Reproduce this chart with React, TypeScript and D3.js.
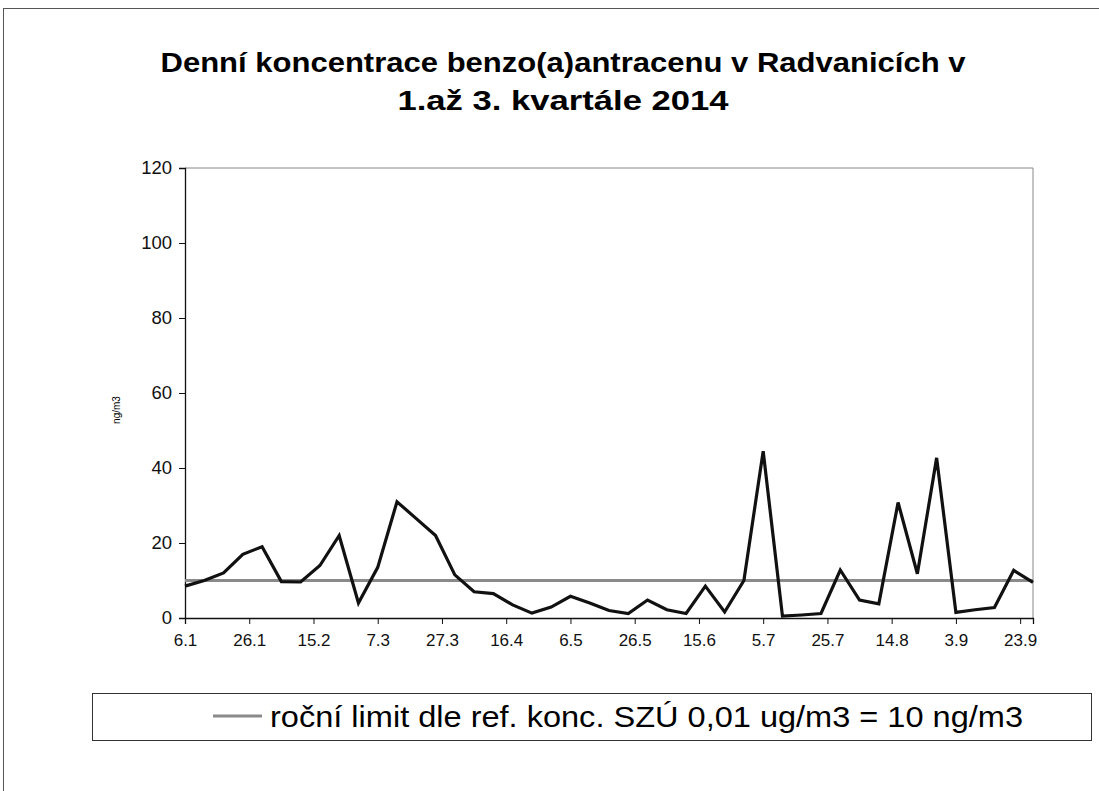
import React, { useEffect, useRef } from 'react';
import * as d3 from 'd3';

// sampling dates (every 6th day) and daily concentrations in ng/m3
const sampleDates = [
  '2014-01-06', '2014-01-12', '2014-01-18', '2014-01-24', '2014-01-30',
  '2014-02-05', '2014-02-11', '2014-02-17', '2014-02-23',
  '2014-03-01', '2014-03-07', '2014-03-13', '2014-03-19', '2014-03-25', '2014-03-31',
  '2014-04-06', '2014-04-12', '2014-04-18', '2014-04-24', '2014-04-30',
  '2014-05-06', '2014-05-12', '2014-05-18', '2014-05-24', '2014-05-30',
  '2014-06-05', '2014-06-11', '2014-06-17', '2014-06-23', '2014-06-29',
  '2014-07-05', '2014-07-11', '2014-07-17', '2014-07-23', '2014-07-29',
  '2014-08-04', '2014-08-10', '2014-08-16', '2014-08-22', '2014-08-28',
  '2014-09-03', '2014-09-09', '2014-09-15', '2014-09-21', '2014-09-27',
];
const concentrations = [
  8.5, 10, 12, 17, 19,
  9.7, 9.6, 14, 22,
  4, 13.5, 31, 26.5, 22, 11.5,
  7, 6.5, 3.5, 1.3, 2.9,
  5.8, 4, 2, 1.2, 4.8,
  2.2, 1.2, 8.5, 1.6, 10,
  44.5, 0.5, 0.8, 1.2, 12.8,
  4.8, 3.8, 30.8, 11.8, 42.7,
  1.5, 2.2, 2.8, 12.7, 9.5,
];
const limitValue = 10;
const xTickDates = [
  '2014-01-06', '2014-01-26', '2014-02-15', '2014-03-07', '2014-03-27', '2014-04-16', '2014-05-06',
  '2014-05-26', '2014-06-15', '2014-07-05', '2014-07-25', '2014-08-14', '2014-09-03', '2014-09-23',
];
const yTicks = [0, 20, 40, 60, 80, 100, 120];
const titleLines = ['Denní koncentrace benzo(a)antracenu v Radvanicích v', '1.až 3. kvartále 2014'];
const legendLabel = 'roční limit dle ref. konc. SZÚ 0,01 ug/m3 = 10 ng/m3';

const FONT = '"Liberation Sans", Arial, sans-serif';

export default function App() {
  const svgRef = useRef<SVGSVGElement>(null);

  useEffect(() => {
    const svg = d3.select(svgRef.current);
    svg.selectAll('*').remove();

    const W = 1099, H = 791;
    const left = 185, right = 1033, top = 168, bottom = 618;
    const parse = d3.timeParse('%Y-%m-%d');
    const dates = sampleDates.map(d => parse(d) as Date);

    svg.append('rect').attr('width', W).attr('height', H).attr('fill', '#fff');
    // outer chart frame
    svg.append('rect').attr('x', 3.5).attr('y', 8.5).attr('width', W + 10).attr('height', H + 10)
      .attr('fill', 'none').attr('stroke', '#555').attr('stroke-width', 1);

    const x = d3.scaleTime().domain([dates[0], dates[dates.length - 1]]).range([left, right]);
    const y = d3.scaleLinear().domain([0, 120]).range([bottom, top]);

    // title, squeezed to the widths seen in the scan
    const titleWidths = [805, 331];
    svg.append('g').selectAll('text').data(titleLines).join('text')
      .attr('x', 563).attr('y', (d, i) => 72 + i * 38)
      .attr('text-anchor', 'middle')
      .attr('textLength', (d, i) => titleWidths[i]).attr('lengthAdjust', 'spacingAndGlyphs')
      .style('font-family', FONT).style('font-weight', 'bold').style('font-size', '28px')
      .text(d => d);

    // plot area border (top / right)
    svg.append('path')
      .attr('d', `M${left},${top}H${right}V${bottom}`)
      .attr('fill', 'none').attr('stroke', '#888').attr('stroke-width', 1);

    // y axis
    const yAxis = svg.append('g').attr('transform', `translate(${left},0)`)
      .call(d3.axisLeft(y).tickValues(yTicks).tickSize(6).tickPadding(7));
    yAxis.select('.domain').attr('stroke', '#111').attr('stroke-width', 1.3);
    yAxis.selectAll('line').attr('stroke', '#111');
    yAxis.selectAll('text').style('font-family', FONT).style('font-size', '18.5px').attr('fill', '#111');

    // x axis
    const xAxis = svg.append('g').attr('transform', `translate(0,${bottom})`)
      .call(d3.axisBottom(x).tickValues(xTickDates.map(d => parse(d) as Date))
        .tickFormat(d => d3.timeFormat('%-d.%-m')(d as Date)).tickSize(6).tickPadding(10));
    xAxis.select('.domain').attr('stroke', '#111').attr('stroke-width', 1.3);
    xAxis.selectAll('line').attr('stroke', '#111');
    xAxis.selectAll('text').style('font-family', FONT).style('font-size', '17px').attr('fill', '#111');

    // y axis title
    svg.append('text')
      .attr('transform', 'translate(120,410) rotate(-90)')
      .attr('text-anchor', 'middle')
      .style('font-family', FONT).style('font-size', '10px')
      .text('ng/m3');

    // limit line
    svg.append('line')
      .attr('x1', x(dates[0])).attr('x2', x(dates[dates.length - 1]))
      .attr('y1', y(limitValue)).attr('y2', y(limitValue))
      .attr('stroke', '#8a8a8a').attr('stroke-width', 3);

    // concentration line
    const line = d3.line<number>()
      .x((d, i) => x(dates[i]))
      .y(d => y(d));
    svg.append('path').datum(concentrations)
      .attr('d', line)
      .attr('fill', 'none').attr('stroke', '#111').attr('stroke-width', 3.2)
      .attr('stroke-linejoin', 'miter');

    // legend
    const lg = svg.append('g');
    lg.append('rect').attr('x', 92.5).attr('y', 693.5).attr('width', 999).attr('height', 47)
      .attr('fill', '#fff').attr('stroke', '#333').attr('stroke-width', 1);
    lg.append('line').attr('x1', 213).attr('x2', 262).attr('y1', 716).attr('y2', 716)
      .attr('stroke', '#8a8a8a').attr('stroke-width', 3);
    lg.append('text').attr('x', 270).attr('y', 727)
      .style('font-family', FONT).style('font-size', '29px')
      .attr('textLength', 753).attr('lengthAdjust', 'spacingAndGlyphs')
      .text(legendLabel);
  }, []);

  return (
    <div style={{ position: 'absolute', left: 0, top: 0 }}>
      <svg ref={svgRef} width={1099} height={791} style={{ display: 'block' }}></svg>
    </div>
  );
}
